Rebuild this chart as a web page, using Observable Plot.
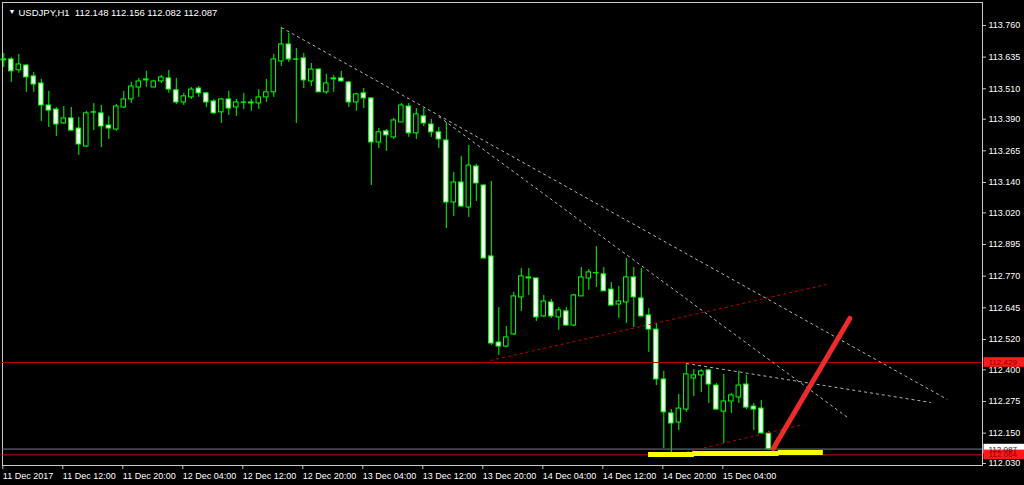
<!DOCTYPE html>
<html><head><meta charset="utf-8">
<script src="https://cdn.jsdelivr.net/npm/d3@7"></script>
<script src="https://cdn.jsdelivr.net/npm/@observablehq/plot@0.6"></script>
<style>
html,body{margin:0;padding:0;background:#000;}
#chart{width:1024px;height:485px;overflow:hidden;}
</style></head><body><div id="chart"></div>
<script>
// ---- data ----
const symbolTitle = "USDJPY,H1  112.148 112.156 112.082 112.087";

const barOpen = [113.622,113.626,113.583,113.602,113.559,113.531,113.444,113.428,113.373,113.393,
113.353,113.282,113.417,113.413,113.365,113.349,113.436,113.468,113.515,113.543,
113.515,113.539,113.551,113.504,113.456,113.476,113.511,113.492,113.460,113.417,
113.468,113.436,113.456,113.456,113.452,113.476,113.496,113.618,113.685,113.626,
113.630,113.539,113.586,113.496,113.547,113.551,113.535,113.456,113.492,113.472,
113.298,113.342,113.318,113.377,113.440,113.334,113.401,113.369,113.338,113.306,
113.061,113.140,113.041,113.203,113.128,112.848,112.508,112.492,112.540,112.686,
112.761,112.761,112.611,112.666,112.607,112.631,112.575,112.690,112.761,112.781,
112.777,112.717,112.658,112.666,112.765,112.682,112.615,112.559,112.362,112.228,
112.192,112.243,112.366,112.378,112.398,112.338,112.235,112.275,112.291,112.342,
112.255,112.247,112.148];
const barHigh = [113.650,113.634,113.646,113.606,113.575,113.547,113.500,113.436,113.440,113.436,
113.397,113.421,113.452,113.444,113.401,113.448,113.500,113.535,113.551,113.579,
113.543,113.563,113.583,113.551,113.492,113.515,113.519,113.496,113.468,113.472,
113.500,113.468,113.492,113.468,113.507,113.547,113.646,113.752,113.729,113.669,
113.650,113.610,113.590,113.567,113.563,113.579,113.539,113.492,113.511,113.474,
113.353,113.349,113.393,113.452,113.452,113.432,113.432,113.389,113.357,113.377,
113.180,113.243,113.286,113.211,113.132,113.144,112.646,112.571,112.706,112.800,
112.800,112.762,112.694,112.678,112.646,112.646,112.698,112.804,112.796,112.887,
112.804,112.745,112.729,112.840,112.804,112.800,112.642,112.583,112.394,112.243,
112.303,112.425,112.401,112.401,112.401,112.346,112.382,112.307,112.394,112.378,
112.267,112.279,112.156];
const barLow = [113.594,113.535,113.571,113.496,113.496,113.381,113.357,113.322,113.369,113.342,
113.247,113.278,113.345,113.278,113.310,113.342,113.432,113.452,113.476,113.515,
113.515,113.531,113.492,113.448,113.444,113.468,113.476,113.436,113.409,113.373,
113.405,113.401,113.428,113.421,113.428,113.456,113.476,113.598,113.614,113.373,
113.511,113.519,113.496,113.488,113.496,113.535,113.436,113.421,113.432,113.128,
113.274,113.263,113.310,113.377,113.318,113.310,113.361,113.318,113.274,112.958,
113.006,113.041,113.002,113.065,112.836,112.496,112.457,112.488,112.536,112.631,
112.694,112.591,112.607,112.603,112.556,112.571,112.571,112.690,112.714,112.725,
112.710,112.650,112.603,112.583,112.567,112.607,112.469,112.338,112.089,112.066,
112.160,112.232,112.295,112.311,112.267,112.239,112.109,112.228,112.267,112.243,
112.160,112.145,112.082];
const barClose = [113.626,113.579,113.606,113.555,113.527,113.444,113.424,113.369,113.393,113.345,
113.290,113.413,113.416,113.361,113.353,113.440,113.468,113.519,113.539,113.547,
113.539,113.555,113.507,113.456,113.480,113.507,113.492,113.456,113.413,113.468,
113.432,113.456,113.455,113.452,113.476,113.496,113.626,113.685,113.626,113.625,
113.543,113.586,113.496,113.531,113.551,113.539,113.456,113.488,113.472,113.298,
113.338,113.326,113.385,113.444,113.334,113.409,113.373,113.338,113.310,113.061,
113.140,113.045,113.207,113.136,112.840,112.504,112.492,112.528,112.690,112.769,
112.765,112.607,112.670,112.611,112.635,112.575,112.694,112.765,112.785,112.782,
112.710,112.654,112.670,112.765,112.686,112.611,112.559,112.362,112.232,112.188,
112.247,112.382,112.378,112.394,112.342,112.243,112.275,112.299,112.338,112.251,
112.243,112.149,112.087];

const xTickLabels = ["11 Dec 2017","11 Dec 12:00","11 Dec 20:00","12 Dec 04:00","12 Dec 12:00",
"12 Dec 20:00","13 Dec 04:00","13 Dec 12:00","13 Dec 20:00","14 Dec 04:00","14 Dec 12:00",
"14 Dec 20:00","15 Dec 04:00"];
const yTickLabels = ["113.760","113.635","113.510","113.390","113.265","113.140","113.020",
"112.895","112.770","112.645","112.520","112.400","112.275","112.150","112.030"];

// horizontal price lines (level, colour)
const levelPrices = [112.429, 112.087, 112.064];
const levelColors = ["#b80000", "#6f7f8c", "#e00000"];
const tagBg = ["#ff1a1a", "#ffffff", "#ff1a1a"];
const tagFg = ["#8a0000", "#202020", "#8a0000"];

// trend lines: bar index & price at both ends
const grayTrends = [
  {i1: 37, p1: 113.752, i2: 125.8, p2: 112.283},
  {i1: 58, p1: 113.400, i2: 112.5, p2: 112.212},
  {i1: 91, p1: 112.425, i2: 123.6, p2: 112.271}
];
const redTrends = [
  {i1: 64.9, p1: 112.437, i2: 109.7, p2: 112.737},
  {i1: 90.2, p1: 112.070, i2: 106.6, p2: 112.184}
];
const yellowMarks = [
  {i1: 85.9, p1: 112.066, i2: 92.0, p2: 112.066},
  {i1: 91.8, p1: 112.070, i2: 103.3, p2: 112.070},
  {i1: 103.2, p1: 112.074, i2: 109.2, p2: 112.074}
];
const redArrow = [{i1: 102.6, p1: 112.089, i2: 112.8, p2: 112.603}];

// ---- build ----
const candles = barOpen.map((o, i) => ({i, o, h: barHigh[i], l: barLow[i], c: barClose[i]}));
const levels = levelPrices.map((p, k) => ({p, color: levelColors[k], bg: tagBg[k], fg: tagFg[k], label: p.toFixed(3)}));
const X0 = -0.173, X1 = 130.49;
const fontFam = "'Liberation Sans', Arial, sans-serif";

const chart = Plot.plot({
  width: 1024, height: 485,
  marginLeft: 2, marginRight: 42, marginTop: 2, marginBottom: 20,
  style: {background: "#000", color: "#fff", fontFamily: fontFam, fontSize: "9px"},
  x: {domain: [X0, X1]},
  y: {domain: [112.0222, 113.8508]},
  marks: [
    Plot.frame({stroke: "#c8c8c8"}),
    Plot.ruleX(candles, {x: "i", y1: "l", y2: "h", stroke: "#00ff00", strokeWidth: 1}),
    Plot.rect(candles, {x1: d => d.i - 0.3, x2: d => d.i + 0.3, y1: "o", y2: "c",
      fill: d => d.c < d.o ? "#ffffff" : "#000000", stroke: "#00ff00", strokeWidth: 1}),
    Plot.ruleY(levels, {y: "p", stroke: "color", strokeWidth: 1}),
    Plot.link(grayTrends, {x1: "i1", y1: "p1", x2: "i2", y2: "p2", stroke: "#b4b4b4", strokeDasharray: "3,3", strokeWidth: 1}),
    Plot.link(redTrends, {x1: "i1", y1: "p1", x2: "i2", y2: "p2", stroke: "#c00000", strokeDasharray: "3,3", strokeWidth: 1}),
    Plot.link(yellowMarks, {x1: "i1", y1: "p1", x2: "i2", y2: "p2", stroke: "#ffff00", strokeWidth: 5}),
    Plot.link(redArrow, {x1: "i1", y1: "p1", x2: "i2", y2: "p2", stroke: "#ee2b2b", strokeWidth: 5, strokeLinecap: "round"}),
    Plot.axisY({anchor: "right", ticks: yTickLabels.map(Number), tickFormat: d => d.toFixed(3),
      tickSize: 3, tickPadding: 3, stroke: "#c8c8c8", fill: "#ffffff", fontSize: 9, label: null}),
    Plot.axisX({ticks: xTickLabels.map((_, k) => k * 8), tickFormat: d => xTickLabels[Math.round(d / 8)],
      tickSize: 4, tickPadding: 3, textAnchor: "start", dx: -1, stroke: "#c8c8c8", fill: "#ffffff", fontSize: 9, label: null}),
    Plot.rect(levels, {x1: X1 + 0.2, x2: X1 + 6, y1: d => d.p - 0.019, y2: d => d.p + 0.019, fill: "bg"}),
    Plot.text(levels, {x: X1, y: "p", text: "label", fill: "fg", textAnchor: "start", dx: 6, fontSize: 8}),
    Plot.text(["▼"], {frameAnchor: "top-left", dx: 6, dy: 7, fill: "#fff", fontSize: 7}),
    Plot.text([symbolTitle], {frameAnchor: "top-left", dx: 16, dy: 7, fill: "#fff", textAnchor: "start", fontSize: 9.5})
  ]
});
document.getElementById("chart").appendChild(chart);
</script>
</body></html>
